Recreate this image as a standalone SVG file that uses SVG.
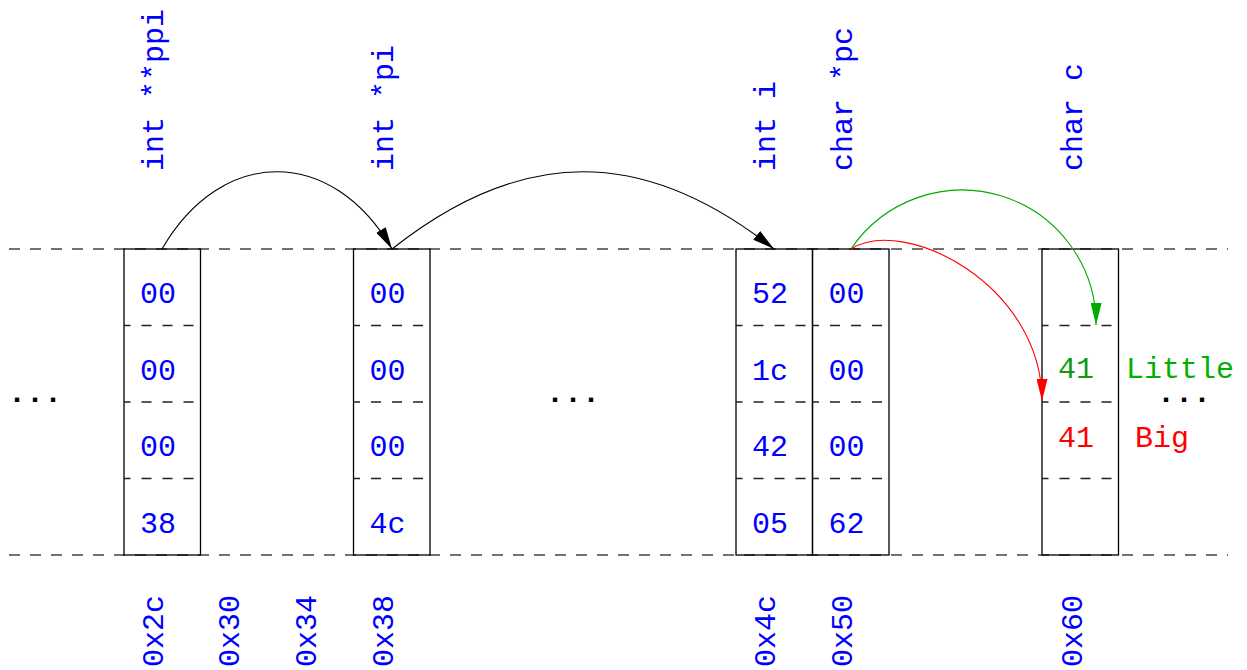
<svg xmlns="http://www.w3.org/2000/svg" width="1247" height="670" viewBox="0 0 1247 670">
<style>
text{font-family:'Liberation Mono','Courier New',monospace;font-size:30px}
.v{fill:#0000ff}
.cell{text-anchor:middle}
.mem{stroke:#444;stroke-width:1.4;stroke-dasharray:11 10;fill:none}
.sep{stroke:#222;stroke-width:1.3;stroke-dasharray:10 11;stroke-dashoffset:3.5;fill:none}
.box{fill:none;stroke:#000;stroke-width:1.3}
.dots{fill:#000;font-weight:bold}
.arr{fill:none;stroke-width:1.1}
</style>
<defs>
<marker id="ahk" markerUnits="userSpaceOnUse" markerWidth="22" markerHeight="11" viewBox="0 0 22 11" refX="22" refY="5.5" orient="auto"><path d="M0,0 L22,5.5 L0,11 Z" fill="#000"/></marker>
<marker id="ahg" markerUnits="userSpaceOnUse" markerWidth="22" markerHeight="11" viewBox="0 0 22 11" refX="22" refY="5.5" orient="auto"><path d="M0,0 L22,5.5 L0,11 Z" fill="#00aa00"/></marker>
<marker id="ahr" markerUnits="userSpaceOnUse" markerWidth="22" markerHeight="11" viewBox="0 0 22 11" refX="22" refY="5.5" orient="auto"><path d="M0,0 L22,5.5 L0,11 Z" fill="#ff0000"/></marker>
</defs>
<rect width="1247" height="670" fill="#fff"/>
<g id="memory-lines">
<line class="mem" x1="9" y1="249" x2="1228" y2="249"/>
<line class="mem" x1="9" y1="555" x2="1228" y2="555"/>
<text class="dots" x="8" y="402">...</text>
<text class="dots" x="546" y="402">...</text>
<text class="dots" x="1157" y="402">...</text>
<text class="v" transform="translate(239,667) rotate(-90)">0x30</text>
<text class="v" transform="translate(316,667) rotate(-90)">0x34</text>
</g>
<g id="ppi">
<rect class="box" x="124" y="249" width="76.5" height="306"/>
<path class="sep" d="M124,325.5H196M124,402H196M124,478.5H196"/>
<text class="v cell" x="158" y="303">00</text>
<text class="v cell" x="158" y="379.5">00</text>
<text class="v cell" x="158" y="456">00</text>
<text class="v cell" x="158" y="532.5">38</text>
<text class="v" transform="translate(162.5,171) rotate(-90)">int **ppi</text>
<text class="v" transform="translate(163,667) rotate(-90)">0x2c</text>
</g>
<g id="pi">
<rect class="box" x="353.5" y="249" width="76.5" height="306"/>
<path class="sep" d="M353.5,325.5H425.5M353.5,402H425.5M353.5,478.5H425.5"/>
<text class="v cell" x="387.5" y="303">00</text>
<text class="v cell" x="387.5" y="379.5">00</text>
<text class="v cell" x="387.5" y="456">00</text>
<text class="v cell" x="387.5" y="532.5">4c</text>
<text class="v" transform="translate(392.5,171) rotate(-90)">int *pi</text>
<text class="v" transform="translate(392.5,667) rotate(-90)">0x38</text>
</g>
<g id="i">
<rect class="box" x="736" y="249" width="76.5" height="306"/>
<path class="sep" d="M736,325.5H812.5M736,402H812.5M736,478.5H812.5"/>
<text class="v cell" x="770" y="303">52</text>
<text class="v cell" x="770" y="379.5">1c</text>
<text class="v cell" x="770" y="456">42</text>
<text class="v cell" x="770" y="532.5">05</text>
<text class="v" transform="translate(775,171) rotate(-90)">int i</text>
<text class="v" transform="translate(775,667) rotate(-90)">0x4c</text>
</g>
<g id="pc">
<rect class="box" x="812.5" y="249" width="76.5" height="306"/>
<path class="sep" d="M812.5,325.5H884.5M812.5,402H884.5M812.5,478.5H884.5"/>
<text class="v cell" x="846.5" y="303">00</text>
<text class="v cell" x="846.5" y="379.5">00</text>
<text class="v cell" x="846.5" y="456">00</text>
<text class="v cell" x="846.5" y="532.5">62</text>
<text class="v" transform="translate(851.5,171) rotate(-90)">char *pc</text>
<text class="v" transform="translate(851.5,667) rotate(-90)">0x50</text>
</g>
<g id="c">
<rect class="box" x="1042" y="249" width="76.5" height="306"/>
<path class="sep" d="M1042,325.5H1114M1042,402H1114M1042,478.5H1114"/>
<text class="cell" x="1076" y="378" fill="#119911">41</text>
<text class="cell" x="1076" y="447" fill="#ff0000">41</text>
<text x="1126" y="378" fill="#00b000">Little</text>
<text x="1135" y="447" fill="#ff0000">Big</text>
<text class="v" transform="translate(1081.5,171) rotate(-90)">char c</text>
<text class="v" transform="translate(1081.5,667) rotate(-90)">0x60</text>
</g>
<g id="connectors">
<path class="arr" stroke="#000" d="M162,249 C222,146 332,146 392,249" marker-end="url(#ahk)"/>
<path class="arr" stroke="#000" d="M392,249 C522,146 644,146 774,249" marker-end="url(#ahk)"/>
<path class="arr" stroke="#00aa00" d="M851,249 A134,134 0 0 1 1096,325" marker-end="url(#ahg)"/>
<path class="arr" stroke="#ff0000" d="M851,249 C905,215 1042,285 1042,401" marker-end="url(#ahr)"/>
</g>
</svg>
